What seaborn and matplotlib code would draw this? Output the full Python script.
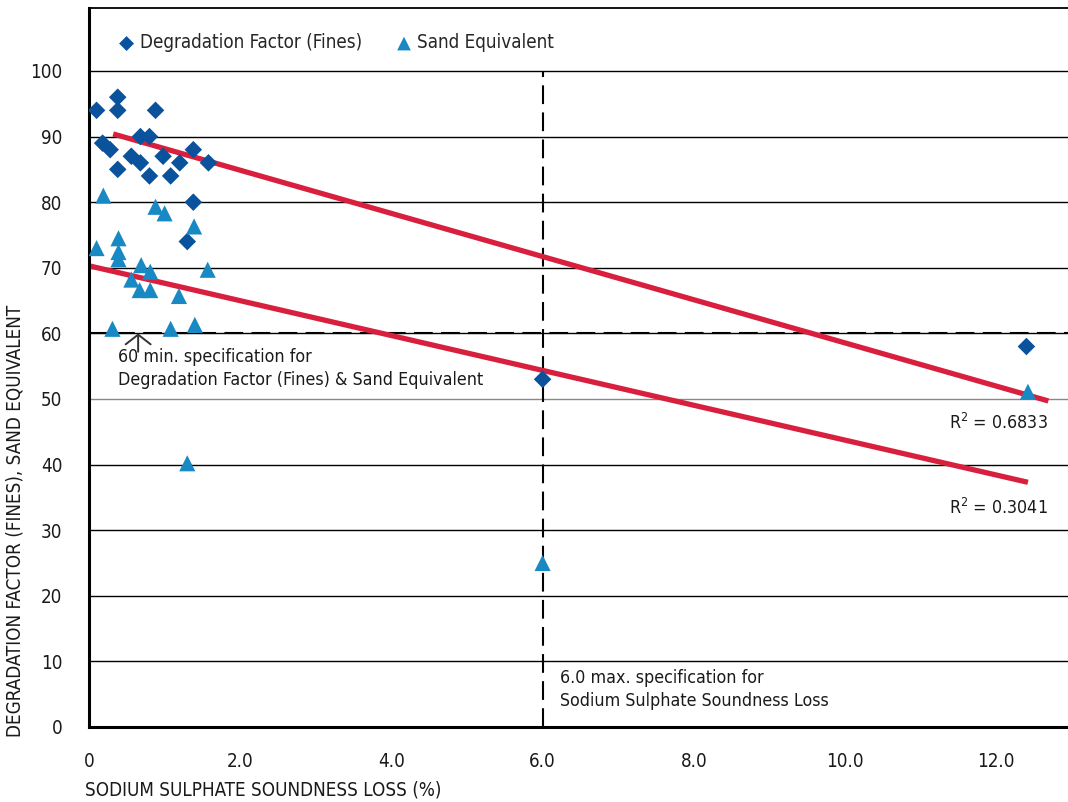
import matplotlib
matplotlib.use("Agg")
import matplotlib.pyplot as plt
from matplotlib import font_manager
import seaborn as sns

# ---------------- data ----------------
df_x = [0.10, 0.38, 0.38, 0.88, 0.18, 0.28, 0.38, 0.56, 0.68, 0.80, 0.68,
        0.80, 0.98, 1.08, 1.20, 1.38, 1.58, 1.38, 1.30, 6.00, 12.40]
df_y = [94, 96, 94, 94, 89, 88, 85, 87, 90, 90, 86,
        84, 87, 84, 86, 88, 86, 80, 74, 53, 58]

se_x = [0.19, 0.10, 0.39, 0.39, 0.39, 0.88, 1.00, 1.39, 0.69, 0.81, 0.56,
        0.67, 0.81, 1.19, 1.57, 0.31, 1.08, 1.40, 1.30, 6.00, 12.42]
se_y = [81, 73, 74.5, 72.4, 71.3, 79.3, 78.3, 76.3, 70.4, 69.4, 68.2,
        66.6, 66.6, 65.7, 69.7, 60.7, 60.7, 61.3, 40.2, 25.0, 51.1]

# trend lines (start / end)
trend_df_x = [0.32, 12.69]
trend_df_y = [90.4, 49.7]
trend_se_x = [0.0, 12.42]
trend_se_y = [70.3, 37.3]

spec_min = 60          # min spec for DF & SE
spec_max_loss = 6.0    # max spec for soundness loss

x_ticks = [0, 2, 4, 6, 8, 10, 12]
x_tick_labels = ["0", "2.0", "4.0", "6.0", "8.0", "10.0", "12.0"]
y_ticks = list(range(0, 101, 10))

# ---------------- style ----------------
sns.set_style("white")
names = {f.name for f in font_manager.fontManager.ttflist}
main_font = "Liberation Sans Narrow" if "Liberation Sans Narrow" in names else "DejaVu Sans"
plt.rcParams["font.family"] = [main_font, "DejaVu Sans"]
plt.rcParams["font.stretch"] = "condensed"
plt.rcParams["mathtext.fontset"] = "custom"
plt.rcParams["mathtext.rm"] = main_font
plt.rcParams["mathtext.it"] = main_font
plt.rcParams["mathtext.default"] = "regular"

FS = 12.8
DF_COL = "#0a539c"
SE_COL = "#1989c4"
RED = "#d8203e"
TXT = "#1a1a1a"

fig = plt.figure(figsize=(10.68, 8.02), dpi=100)
ax = fig.add_axes([89 / 1068, 75 / 802, (1068 - 89) / 1068, 719 / 802])

# grid
for yv in y_ticks[1:]:
    ax.axhline(yv, color="#888888" if yv == 50 else "black", lw=1.0, zorder=0.5)

# spec lines
ax.axhline(spec_min, color="black", lw=1.5, dashes=(9, 4), zorder=1)
ax.plot([spec_max_loss, spec_max_loss], [0, 100], color="black", lw=1.5,
        dashes=(9, 4), zorder=1)

# trend lines
sns.lineplot(x=trend_df_x, y=trend_df_y, ax=ax, color=RED, lw=3.8, zorder=2,
             solid_capstyle="butt")
sns.lineplot(x=trend_se_x, y=trend_se_y, ax=ax, color=RED, lw=3.8, zorder=2,
             solid_capstyle="butt")

# scatter
sns.scatterplot(x=df_x, y=df_y, ax=ax, marker="D", s=80, color=DF_COL,
                edgecolor="none", label="Degradation Factor (Fines)", zorder=3)
sns.scatterplot(x=se_x, y=se_y, ax=ax, marker="^", s=135, color=SE_COL,
                edgecolor="none", label="Sand Equivalent", zorder=3)

ax.set_xlim(0, 12.95)
ax.set_ylim(0, 109.6)
ax.set_xticks(x_ticks)
ax.set_xticklabels(x_tick_labels)
ax.set_yticks(y_ticks)
ax.tick_params(axis="both", direction="out", length=14, width=1.2,
               colors="#444444", labelsize=FS + 0.7, labelcolor=TXT)
ax.tick_params(axis="x", pad=4)
ax.tick_params(axis="y", pad=5)

for s in ["left", "bottom"]:
    ax.spines[s].set_linewidth(2.2)
    ax.spines[s].set_color("black")
ax.spines["top"].set_linewidth(1.3)
ax.spines["top"].set_color("black")
ax.spines["right"].set_visible(False)

ax.set_xlabel("SODIUM SULPHATE SOUNDNESS LOSS (%)", fontsize=FS + 0.7, loc="left",
              color=TXT)
ax.xaxis.set_label_coords(-0.004, -0.075)
ax.set_ylabel("DEGRADATION FACTOR (FINES), SAND EQUIVALENT", fontsize=FS + 0.7,
              loc="bottom", color=TXT)
ax.yaxis.set_label_coords(-0.066, -0.014)

# legend
leg = ax.legend(loc="upper left", bbox_to_anchor=(0.024, 0.975), ncol=2,
                frameon=False, fontsize=FS + 0.7, handlelength=0.7,
                handletextpad=0.35, columnspacing=1.9, borderaxespad=0,
                markerscale=0.85)

# annotations
arrow_x = 0.65
ax.annotate("", xy=(arrow_x, spec_min), xytext=(arrow_x, 57.2),
            arrowprops=dict(arrowstyle="->,head_length=0.35,head_width=0.45",
                            color="#333333", lw=1.4, shrinkA=0, shrinkB=0,
                            mutation_scale=20), zorder=4)
ax.text(0.38, 57.8, "60 min. specification for\nDegradation Factor (Fines) & Sand Equivalent",
        fontsize=FS, va="top", ha="left", linespacing=1.35, color=TXT)
ax.text(6.23, 8.8, "6.0 max. specification for\nSodium Sulphate Soundness Loss",
        fontsize=FS, va="top", ha="left", linespacing=1.35, color=TXT)
ax.text(12.69, 46.3, r"R$^{\mathsf{2}}$ = 0.6833", fontsize=FS, ha="right", va="center",
        color=TXT)
ax.text(12.69, 33.4, r"R$^{\mathsf{2}}$ = 0.3041", fontsize=FS, ha="right", va="center",
        color=TXT)

fig.savefig("out.png", dpi=100)
